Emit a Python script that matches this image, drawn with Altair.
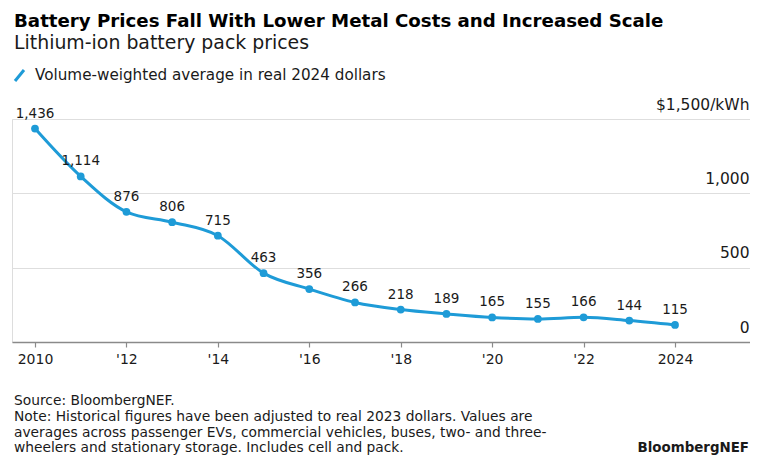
import altair as alt
import pandas as pd

years = list(range(2010, 2025))
prices = [1436, 1114, 876, 806, 715, 463, 356, 266, 218, 189, 165, 155, 166, 144, 115]
x_ticks = [2010, 2012, 2014, 2016, 2018, 2020, 2022, 2024]
y_ticks = [0, 500, 1000, 1500]

title = "Battery Prices Fall With Lower Metal Costs and Increased Scale"
subtitle = "Lithium-ion battery pack prices"
legend_label = "Volume-weighted average in real 2024 dollars"
notes = [
    "Source: BloombergNEF.",
    "Note: Historical figures have been adjusted to real 2023 dollars. Values are",
    "averages across passenger EVs, commercial vehicles, buses, two- and three-",
    "wheelers and stationary storage. Includes cell and pack.",
]
brand = "BloombergNEF"

BLUE = "#1e9bd7"
FONT = "DejaVu Sans"
W, H = 738, 223

df = pd.DataFrame({"year": years, "price": prices})

x_enc = alt.X(
    "year:Q",
    scale=alt.Scale(domain=[2009.497, 2025.64], nice=False, zero=False),
    axis=alt.Axis(
        values=x_ticks,
        grid=False,
        title=None,
        domainColor="#8a8a8a",
        domainWidth=1.5,
        tickColor="#8a8a8a",
        tickWidth=1.2,
        tickSize=5,
        labelFontSize=14,
        labelColor="#1a1a1a",
        labelPadding=5,
        labelFont=FONT,
        labelExpr="(datum.value == 2010 || datum.value == 2024) ? '' + datum.value : \"'\" + substring('' + datum.value, 2)",
    ),
)
y_enc = alt.Y(
    "price:Q",
    scale=alt.Scale(domain=[0, 1500], nice=False),
    axis=alt.Axis(
        orient="right",
        values=y_ticks,
        title=None,
        domain=False,
        ticks=False,
        grid=True,
        gridColor="#dedede",
        gridWidth=1,
        labelAlign="right",
        labelBaseline="alphabetic",
        labelPadding=-1,
        labelOffset=-10,
        labelFontSize=15.5,
        labelColor="#1a1a1a",
        labelFont=FONT,
        labelExpr="datum.value == 1500 ? '$1,500/kWh' : format(datum.value, ',')",
    ),
)

base = alt.Chart(df)
line = base.mark_line(color=BLUE, strokeWidth=3, interpolate="monotone").encode(x=x_enc, y=y_enc)
pts = base.mark_circle(color=BLUE, size=60, opacity=1).encode(x="year:Q", y="price:Q")
labels = base.mark_text(
    fontSize=13.5, font=FONT, color="#1a1a1a", baseline="middle", dy=-15
).encode(x="year:Q", y="price:Q", text=alt.Text("price:Q", format=","))

one = pd.DataFrame({"a": [0]})
ann = alt.Chart(one)
title_t = ann.mark_text(text=title, fontSize=18.2, fontWeight="bold", font=FONT, align="left",
                        baseline="alphabetic", color="#000000").encode(x=alt.value(2), y=alt.value(-92))
sub_t = ann.mark_text(text=subtitle, fontSize=18.9, font=FONT, align="left",
                      baseline="alphabetic", color="#1a1a1a").encode(x=alt.value(2), y=alt.value(-70))
leg_line = ann.mark_rule(color=BLUE, strokeWidth=3).encode(
    x=alt.value(3), x2=alt.value(12), y=alt.value(-38), y2=alt.value(-49))
leg_t = ann.mark_text(text=legend_label, fontSize=15.2, font=FONT, align="left",
                      baseline="alphabetic", color="#1a1a1a").encode(x=alt.value(23), y=alt.value(-39))
notes_t = ann.mark_text(text=notes, fontSize=13.8, font=FONT, align="left", baseline="alphabetic",
                        lineHeight=15.8, color="#1a1a1a").encode(x=alt.value(2), y=alt.value(286))
brand_t = ann.mark_text(text=brand, fontSize=13.4, fontWeight="bold", font=FONT, align="right",
                        baseline="alphabetic", color="#1a1a1a").encode(x=alt.value(737), y=alt.value(333))

chart = alt.layer(line, pts, labels, title_t, sub_t, leg_line, leg_t, notes_t, brand_t).properties(
    width=W, height=H,
    autosize=alt.AutoSizeParams(type="none"),
    padding={"left": 4, "top": 111, "right": 0, "bottom": 113},
).configure_view(stroke=None).configure(background="white")

chart.save("out.html", embed_options={"renderer": "svg", "actions": False})
